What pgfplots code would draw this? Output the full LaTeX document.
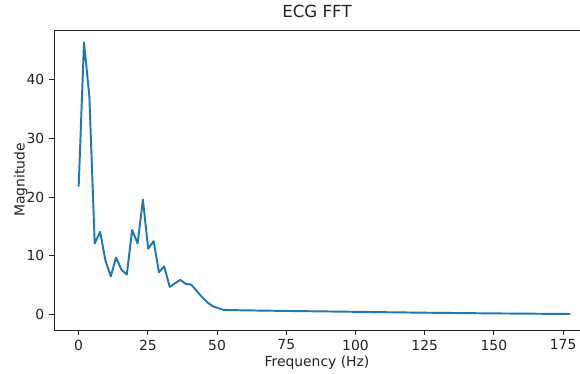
\documentclass[border=0pt]{standalone}
\usepackage{pgfplots}
\pgfplotsset{compat=1.18}
\usepackage{fontspec}
\setmainfont{DejaVu Sans}
\definecolor{mplblue}{HTML}{1F77B4}
\definecolor{spine}{HTML}{222222}
\begin{document}
\begin{tikzpicture}
\useasboundingbox (-38.9pt,-31pt) rectangle (378.7pt,237.6pt);
\begin{axis}[
  at={(0,0)}, anchor=south west,
  scale only axis,
  width=378.7pt, height=216pt,
  xmin=-8.9, xmax=181.1,
  ymin=-2.65, ymax=48.5,
  axis y line*=left,
  axis x line*=box,
  xtick={0,25,50,75,100,125,150,175},
  ytick={0,10,20,30,40},
  xtick pos=bottom, ytick pos=left,
  tick align=outside,
  major tick length=3.5pt,
  every tick/.style={spine, line width=0.6pt},
  axis line style={spine, line width=0.6pt},
  /pgf/number format/assume math mode=true,
  tick label style={font=\fontsize{10}{12}\selectfont, text=spine},
  label style={font=\fontsize{10}{12}\selectfont, text=spine},
  title style={font=\fontsize{12}{14}\selectfont, text=spine, yshift=-1pt},
  title={ECG FFT},
  xlabel={Frequency (Hz)},
  ylabel={Magnitude},
  xlabel style={yshift=3pt},
  ylabel style={yshift=-7.5pt},
]
\addplot[mplblue, line width=1.4pt, line join=round] coordinates {
(0,21.8) (1.93,46.4) (3.87,37.1) (5.8,12.1) (7.74,14.1) (9.67,9.2)
(11.6,6.5) (13.5,9.7) (15.5,7.6) (17.4,6.8) (19.3,14.4) (21.3,12.1)
(23.2,19.6) (25.1,11.2) (27.1,12.5) (29.0,7.2) (30.9,8.2) (32.9,4.7)
(34.8,5.3) (36.7,5.9) (38.7,5.2) (40.6,5.1) (42.5,4.1) (44.5,3.0)
(46.4,2.1) (48.4,1.4) (50.3,1.1) (52.2,0.8) (54.2,0.75) (60,0.7)
(75,0.6) (100,0.45) (125,0.3) (150,0.18) (177.6,0.08)
};
\end{axis}
\end{tikzpicture}
\end{document}
